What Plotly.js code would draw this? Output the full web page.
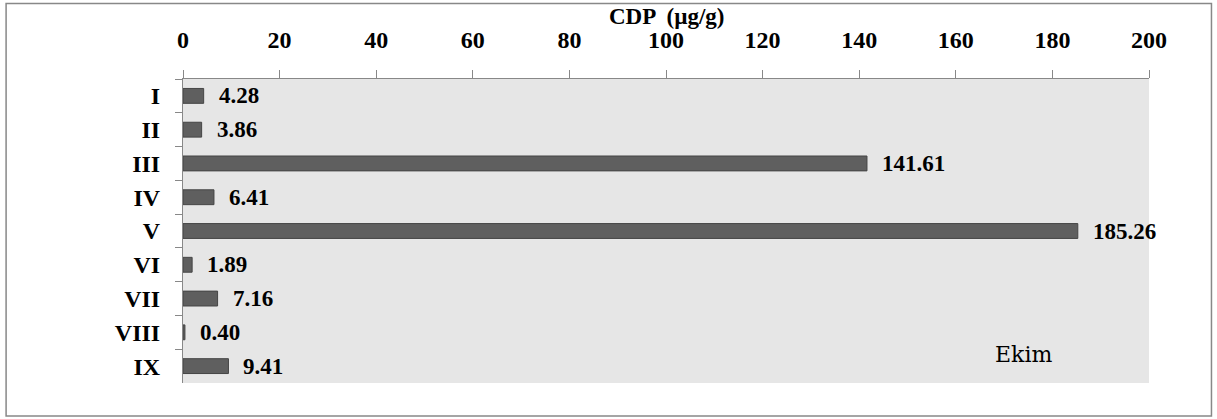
<!DOCTYPE html>
<html>
<head>
<meta charset="utf-8">
<script src="https://cdn.plot.ly/plotly-3.0.1.min.js"></script>
<style>
html,body{margin:0;padding:0;background:#fff;}
#chart{width:1217px;height:419px;}
</style>
</head>
<body>
<div id="chart"></div>
<script>
const categories = ["I","II","III","IV","V","VI","VII","VIII","IX"];
const values = [4.28, 3.86, 141.61, 6.41, 185.26, 1.89, 7.16, 0.40, 9.41];
const valueLabels = ["4.28","3.86","141.61","6.41","185.26","1.89","7.16","0.40","9.41"];
const xTicks = [0,20,40,60,80,100,120,140,160,180,200];
const axisTitle = "CDP  (µg/g)";
const panelLabel = "Ekim";

const fam = "Liberation Serif, Times New Roman, serif";
const tickFont = {family: fam, size: 24, color: "#000", weight: "bold"};

const trace = {
  type: "bar",
  orientation: "h",
  x: values,
  y: categories,
  width: 0.44,
  marker: {color: "#5f5f5f", line: {color: "#454545", width: 1}},
  hoverinfo: "none"
};

const annotations = values.map((v, i) => ({
  x: v, y: categories[i], xref: "x", yref: "y",
  text: "<b>" + valueLabels[i] + "</b>",
  showarrow: false, xanchor: "left", yanchor: "middle", xshift: 13, yshift: 0,
  font: {family: fam, size: 23, color: "#000"}
}));
annotations.push({
  x: 0.87, y: 0.095, xref: "paper", yref: "paper",
  text: panelLabel, showarrow: false, xanchor: "center", yanchor: "middle",
  font: {family: "DejaVu Serif, serif", size: 22, color: "#000"}
});
annotations.push({
  x: 0.5, y: 1.205, xref: "paper", yref: "paper",
  text: "<b>" + axisTitle + "</b>", showarrow: false, xanchor: "center", yanchor: "middle",
  font: {family: fam, size: 23, color: "#000"}
});

const layout = {
  width: 1217, height: 419,
  margin: {l: 183, r: 67.5, t: 78.5, b: 36},
  paper_bgcolor: "#fff",
  plot_bgcolor: "#e6e6e6",
  showlegend: false,
  xaxis: {
    side: "top",
    range: [0, 200],
    tickvals: xTicks,
    ticktext: xTicks.map(String),
    ticks: "outside", ticklen: 8, tickcolor: "#888", tickwidth: 1,
    showline: true, linecolor: "#888", linewidth: 1,
    showgrid: false, zeroline: false,
    tickfont: tickFont,
    ticklabelstandoff: 12,
    fixedrange: true
  },
  yaxis: {
    autorange: "reversed",
    type: "category",
    tickson: "boundaries",
    ticks: "outside", ticklen: 7, tickcolor: "#888", tickwidth: 1,
    showline: true, linecolor: "#888", linewidth: 1,
    showgrid: false, zeroline: false,
    tickfont: tickFont,
    ticklabelstandoff: 17,
    fixedrange: true
  },
  annotations: annotations,
  shapes: [{
    type: "rect", xref: "paper", yref: "paper",
    x0: (6 - 183) / 966.5, x1: (1212 - 183) / 966.5,
    y0: (383 - 416) / 304.5, y1: (383 - 3) / 304.5,
    line: {color: "#888", width: 1.5}, fillcolor: "rgba(0,0,0,0)", layer: "below"
  }]
};

Plotly.newPlot("chart", [trace], layout, {displayModeBar: false, staticPlot: true});
</script>
</body>
</html>
